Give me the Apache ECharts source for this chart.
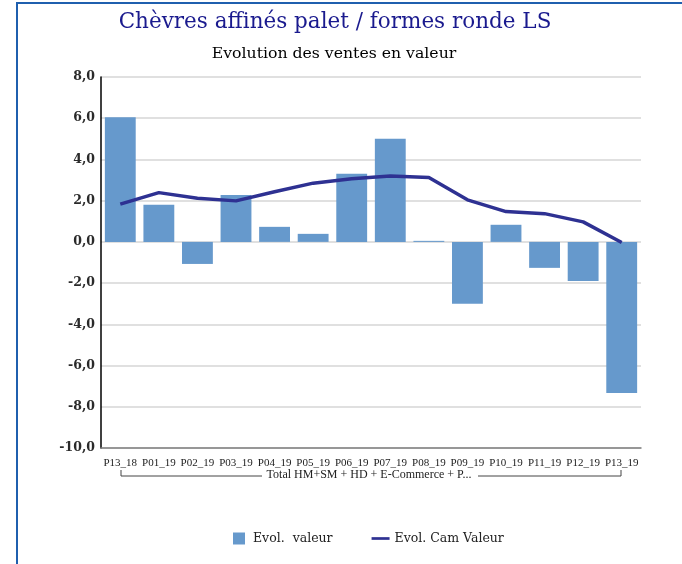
<!DOCTYPE html>
<html><head><meta charset="utf-8">
<script src="https://cdn.jsdelivr.net/npm/echarts@6/dist/echarts.min.js"></script>
<style>html,body{margin:0;padding:0;background:#fff}#c{width:682px;height:564px}</style>
</head><body><div id="c"></div>
<script>
const categories = ['P13_18','P01_19','P02_19','P03_19','P04_19','P05_19','P06_19','P07_19','P08_19','P09_19','P10_19','P11_19','P12_19','P13_19'];
const evolValeur = [6.05, 1.8, -1.07, 2.28, 0.73, 0.39, 3.3, 5.0, 0.05, -3.0, 0.83, -1.26, -1.9, -7.33];
const evolCamValeur = [1.83, 2.39, 2.12, 1.99, 2.43, 2.85, 3.06, 3.2, 3.12, 2.04, 1.47, 1.37, 0.97, -0.03];
const yTicks = {min: -10, max: 8, interval: 2};
const groupLabel = 'Total HM+SM + HD + E-Commerce + P...';
const titleText = 'Chèvres affinés palet / formes ronde LS';
const subtitleText = 'Evolution des ventes en valeur';

const chart = echarts.init(document.getElementById('c'), null, {renderer: 'canvas'});
const serif = '"DejaVu Serif", serif';
const lineIcon = 'path://M0,0 L20,0 L20,3 L0,3 Z';
const squareIcon = 'path://M0,0 L12,0 L12,12 L0,12 Z';
chart.setOption({
  animation: false,
  backgroundColor: '#fff',
  title: [
    {text: titleText, left: 330, top: 6, textAlign: 'center',
     textStyle: {fontFamily: serif, fontSize: 21.5, fontWeight: 'normal', color: '#1a1a8e'}},
    {text: subtitleText, left: 329, top: 41, textAlign: 'center',
     textStyle: {fontFamily: serif, fontSize: 15.7, fontWeight: 'normal', color: '#000'}}
  ],
  grid: {left: 101, right: 41, top: 77, bottom: 116, containLabel: false},
  legend: {
    top: 527, left: 228, itemGap: 39, itemWidth: 18, itemHeight: 12,
    textStyle: {fontFamily: serif, fontSize: 12.5, color: '#222'},
    data: [{name: 'Evol.  valeur', icon: squareIcon},
           {name: 'Evol. Cam Valeur', icon: lineIcon, itemStyle: {color: '#2e3192'}}]
  },
  xAxis: {
    type: 'category', data: categories,
    axisLine: {show: true, onZero: false, lineStyle: {color: '#7f7f7f', width: 1.5}},
    axisTick: {show: false},
    axisLabel: {interval: 0, margin: 10, fontFamily: '"Liberation Serif", serif', fontSize: 11, color: '#222'}
  },
  yAxis: {
    type: 'value', min: yTicks.min, max: yTicks.max, interval: yTicks.interval,
    axisLine: {show: true, lineStyle: {color: '#000', width: 1.5}},
    axisTick: {show: false},
    splitLine: {lineStyle: {color: '#d6d6d6', width: 1.5}},
    axisLabel: {margin: 6, fontFamily: serif, fontSize: 12.5, fontWeight: 'bold', color: '#2a2a2a',
      formatter: v => v.toFixed(1).replace('.', ',')}
  },
  series: [
    {name: 'Evol.  valeur', type: 'bar', data: evolValeur, barCategoryGap: '20%',
     itemStyle: {color: '#6699cc'}},
    {name: 'Evol. Cam Valeur', type: 'line', data: evolCamValeur, symbol: 'none',
     lineStyle: {color: '#2e3192', width: 3.5}, itemStyle: {color: '#2e3192'}}
  ],
  graphic: [
    {type: 'rect', shape: {x: 17, y: 3, width: 700, height: 600}, style: {fill: 'none', stroke: '#1f5fae', lineWidth: 2}},
    {type: 'polyline', shape: {points: [[121, 470], [121, 476], [262, 476]]}, style: {stroke: '#444', lineWidth: 1, fill: 'none'}},
    {type: 'polyline', shape: {points: [[478, 476], [621, 476], [621, 470]]}, style: {stroke: '#444', lineWidth: 1, fill: 'none'}},
    {type: 'text', x: 369, y: 469, style: {text: groupLabel, textAlign: 'center', fontFamily: '"Liberation Serif", serif', fontSize: 12, fill: '#222'}}
  ]
});
</script></body></html>
